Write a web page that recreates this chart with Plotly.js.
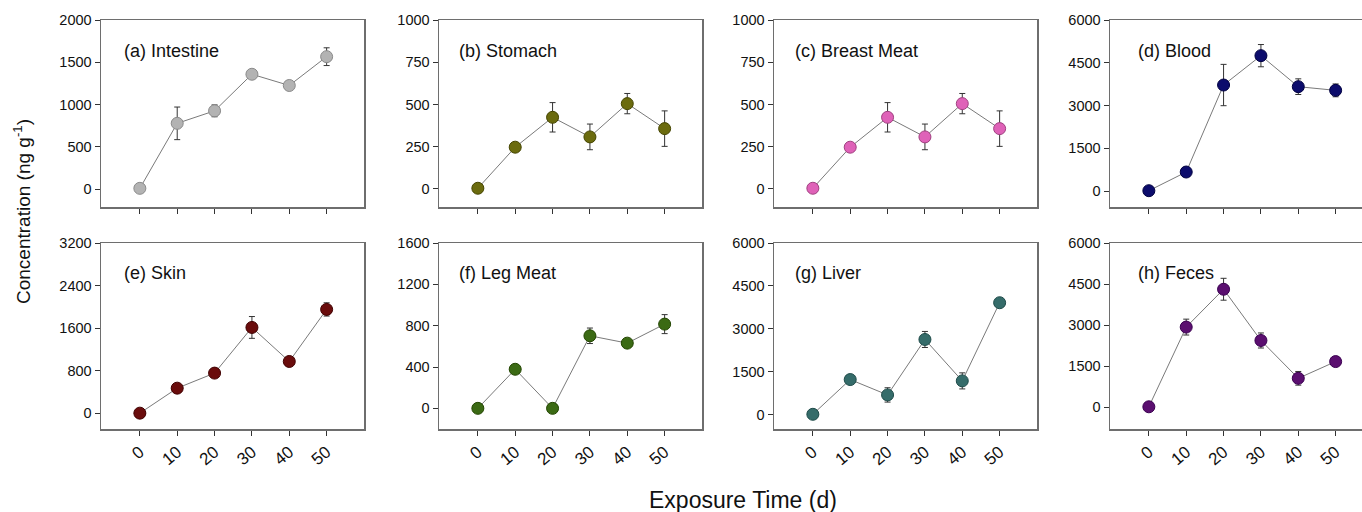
<!DOCTYPE html>
<html>
<head>
<meta charset="utf-8">
<script src="https://cdn.plot.ly/plotly-3.0.1.min.js"></script>
<style>
html, body { margin: 0; padding: 0; overflow: hidden; background: #fff; }
#chart { width: 1375px; height: 512px; }
</style>
</head>
<body>
<div id="chart"></div>
<script>
// ---- data ----
var days = [0, 10, 20, 30, 40, 50];
var tickLabels = ["0", "10", "20", "30", "40", "50"];

var panelNames = ["(a) Intestine", "(b) Stomach", "(c) Breast Meat", "(d) Blood",
                  "(e) Skin", "(f) Leg Meat", "(g) Liver", "(h) Feces"];

var intestine    = [8, 777, 925, 1358, 1225, 1566];
var intestineErr = [0, 193, 70, 0, 47, 105];
var stomach      = [4, 247, 424, 308, 505, 357];
var stomachErr   = [0, 0, 87, 76, 60, 105];
var breastMeat   = [4, 247, 424, 308, 505, 357];
var breastMeatErr= [0, 0, 87, 76, 60, 105];
var blood        = [12, 667, 3719, 4749, 3661, 3532];
var bloodErr     = [0, 0, 725, 390, 275, 225];
var skin         = [0, 470, 753, 1612, 972, 1951];
var skinErr      = [0, 0, 0, 205, 0, 125];
var legMeat      = [0, 378, 0, 702, 631, 815];
var legMeatErr   = [0, 0, 0, 75, 0, 92];
var liver        = [23, 1235, 699, 2634, 1189, 3916];
var liverErr     = [0, 0, 250, 280, 280, 0];
var feces        = [12, 2926, 4309, 2436, 1053, 1665];
var fecesErr     = [0, 290, 400, 275, 250, 0];

var yTop   = [2000, 1000, 1000, 6000, 3200, 1600, 6000, 6000];
var yStep  = [500, 250, 250, 1500, 800, 400, 1500, 1500];

// ---- styles ----
var seriesVals = [intestine, stomach, breastMeat, blood, skin, legMeat, liver, feces];
var seriesErrs = [intestineErr, stomachErr, breastMeatErr, bloodErr, skinErr, legMeatErr, liverErr, fecesErr];
var fillCols = ["#b3b3b3", "#6b6b0e", "#df62b8", "#0c0c6c", "#6a0c0c", "#3b6a14", "#356c6a", "#5b0f70"];
var edgeCols = ["#8a8a8a", "#454500", "#a04080", "#000040", "#400000", "#224500", "#1d4a48", "#3a0050"];
var yBottom = [-213, -107, -107, -560, -298, -200, -490, -800];
var labelX  = [0.08, 0.07, 0.072, 0.10, 0.08, 0.07, 0.072, 0.10];

var W = 1375, H = 512;
var colPx = [[101, 364], [439, 702], [774, 1037], [1110, 1373]];
var rowPx = [[20, 207], [243, 429]];

var traces = [];
var layout = {
  width: W, height: H,
  margin: {l: 0, r: 0, t: 0, b: 0},
  paper_bgcolor: "#ffffff",
  plot_bgcolor: "#ffffff",
  showlegend: false,
  font: {family: "Liberation Sans, Arial, sans-serif", color: "#111", size: 14},
  annotations: []
};

for (var i = 0; i < 8; i++) {
  var r = Math.floor(i / 4), c = i % 4;
  var sfx = i === 0 ? "" : String(i + 1);
  traces.push({
    type: "scatter", mode: "lines+markers",
    x: days, y: seriesVals[i],
    xaxis: "x" + sfx, yaxis: "y" + sfx,
    line: {color: "#7a7a7a", width: 1},
    marker: {size: 12, color: fillCols[i], line: {color: edgeCols[i], width: 1}},
    error_y: {type: "data", array: seriesErrs[i], visible: true, color: "#333333", thickness: 1, width: 3},
    cliponaxis: false
  });
  var common = {
    showline: true, mirror: true, linecolor: "#6e6e6e", linewidth: 1.5,
    showgrid: false, zeroline: false, ticks: "outside", ticklen: 5,
    tickcolor: "#333", tickwidth: 1
  };
  var xa = Object.assign({}, common, {
    domain: [colPx[c][0] / W, colPx[c][1] / W],
    range: [-10.4, 60],
    tickmode: "array", tickvals: days, ticktext: tickLabels,
    showticklabels: r === 1, tickangle: -40,
    tickfont: {family: "Liberation Sans, Arial, sans-serif", size: 17, color: "#111"},
    anchor: "y" + sfx
  });
  var ya = Object.assign({}, common, {
    domain: [1 - rowPx[r][1] / H, 1 - rowPx[r][0] / H],
    range: [yBottom[i], yTop[i]],
    tickmode: "linear", tick0: 0, dtick: yStep[i],
    tickfont: {family: "Liberation Sans, Arial, sans-serif", size: 14.5, color: "#111"},
    anchor: "x" + sfx
  });
  layout["xaxis" + sfx] = xa;
  layout["yaxis" + sfx] = ya;
  layout.annotations.push({
    xref: "x" + sfx + " domain", yref: "y" + sfx + " domain",
    x: labelX[i], y: r === 0 ? 0.835 : 0.84, xanchor: "left", yanchor: "middle",
    text: panelNames[i], showarrow: false,
    font: {family: "Liberation Sans, Arial, sans-serif", size: 18, color: "#111"}
  });
}

layout.annotations.push({
  xref: "paper", yref: "paper", x: 22 / W, y: 1 - 212 / H,
  xanchor: "center", yanchor: "middle", textangle: -90,
  text: "Concentration (ng g<sup>-1</sup>)", showarrow: false,
  font: {family: "Liberation Sans, Arial, sans-serif", size: 19, color: "#111"}
});
layout.annotations.push({
  xref: "paper", yref: "paper", x: 743 / W, y: 1 - 500 / H,
  xanchor: "center", yanchor: "middle",
  text: "Exposure Time (d)", showarrow: false,
  font: {family: "Liberation Sans, Arial, sans-serif", size: 23, color: "#111"}
});

Plotly.newPlot("chart", traces, layout, {displayModeBar: false, staticPlot: true});
</script>
</body>
</html>
